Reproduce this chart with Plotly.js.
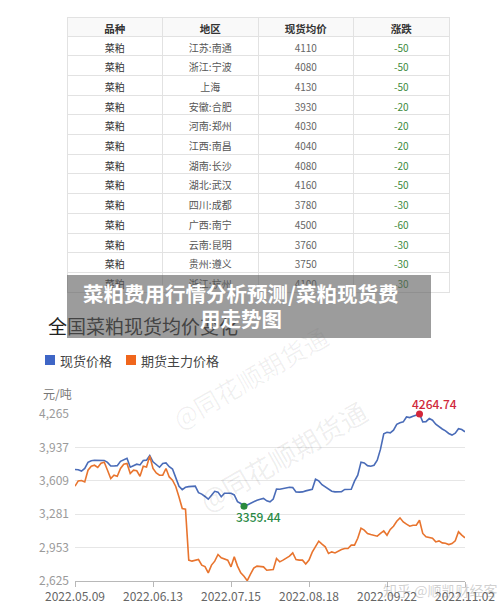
<!DOCTYPE html>
<html><head><meta charset="utf-8">
<script src="https://cdn.plot.ly/plotly-3.0.1.min.js"></script>
<style>html,body{margin:0;padding:0;background:#fff;}#chart{width:500px;height:613px;}</style>
</head><body><div id="chart"></div>
<script>
// ---- table data ----
const tableHeader = ['品种', '地区', '现货均价', '涨跌'];
const varieties = ['菜粕','菜粕','菜粕','菜粕','菜粕','菜粕','菜粕','菜粕','菜粕','菜粕','菜粕','菜粕','菜粕'];
const regions = ['江苏:南通','浙江:宁波','上海','安徽:合肥','河南:郑州','江西:南昌','湖南:长沙','湖北:武汉','四川:成都','广西:南宁','云南:昆明','贵州:遵义','浙江:杭州'];
const avgPrices = [4110, 4080, 4130, 3930, 4030, 4040, 4080, 4160, 3780, 4500, 3760, 3750, 4100];
const priceChanges = [-50, -50, -50, -20, -20, -20, -20, -50, -30, -60, -30, -30, -30];

// ---- chart data (one value per trading day, 2022.05.09 – 2022.11.02) ----
const seriesNames = ['现货价格', '期货主力价格'];
const spotPrice = [
  3720,3718,3705,3730,3790,3806,3810,3812,3808,3809,
  3790,3755,3754,3758,3800,3818,3830,3742,3755,3772,
  3765,3808,3812,3858,3795,3765,3742,3778,3785,3748,
  3725,3640,3556,3522,3545,3552,3555,3557,3492,3478,
  3455,3428,3466,3506,3498,3452,3487,3484,3486,3470,
  3405,3386,3359.44,3372,3390,3405,3418,3428,3436,3412,
  3402,3430,3528,3526,3532,3543,3545,3542,3500,3498,
  3500,3510,3520,3526,3625,3608,3570,3550,3533,3507,
  3500,3499,3502,3524,3522,3526,3605,3665,3792,3785,
  3758,3752,3762,3812,3920,4071,4086,4080,4106,4164,
  4180,4188,4236,4230,4243,4254,4264.74,4188,4190,4220,
  4204,4165,4140,4118,4100,4074,4058,4076,4120,4112,
  4090
];
const futuresPrice = [
  3556,3608,3612,3598,3713,3752,3762,3740,3782,3792,
  3713,3632,3664,3654,3730,3772,3779,3681,3713,3708,
  3654,3752,3745,3852,3730,3686,3664,3664,3730,3647,
  3615,3553,3450,3337,3330,2830,2820,2830,2836,2781,
  2766,2705,2781,2820,2885,2852,2844,2830,2764,2862,
  2771,2705,2672,2628,2692,2751,2771,2764,2764,2731,
  2734,2738,2846,2813,2830,2846,2869,2901,2836,2830,
  2830,2791,2830,2908,2967,3016,2987,2961,2895,2911,
  2901,2921,2934,2944,2944,2977,2977,3045,3144,3124,
  3092,3082,3075,3065,3092,3117,3075,3131,3163,3212,
  3245,3205,3183,3163,3173,3173,3222,3092,3059,3052,
  3045,3009,3019,2999,2996,2983,2993,3019,3108,3075,
  3049
];
const xTickIndex = [0, 24, 48, 72, 96, 120];
const xTickLabels = ['2022.05.09','2022.06.13','2022.07.15','2022.08.18','2022.09.22','2022.11.02'];
const yTickValues = [2625, 2953, 3281, 3609, 3937, 4265];

// ---- helpers ----
const PX = x => x / 500;
const PY = y => 1 - y / 613;
const FONT = '"Noto Sans CJK SC", "Noto Sans", sans-serif';
const BLUE = '#4a6cb8', ORANGE = '#e8742e';

const dayIndex = spotPrice.map((_, i) => i);
const maxVal = Math.max(...spotPrice), minVal = Math.min(...spotPrice);
const maxIdx = spotPrice.indexOf(maxVal), minIdx = spotPrice.indexOf(minVal);

const tableTrace = {
  type: 'table',
  domain: {x: [PX(67), PX(449)], y: [PY(298), PY(17)]},
  columnwidth: [1, 1, 1, 1],
  header: {
    values: tableHeader,
    height: 19,
    align: 'center',
    fill: {color: '#f9f9f9'},
    line: {color: '#e2e2e2', width: 1},
    font: {family: FONT, size: 10.5, color: '#333', weight: 'bold'}
  },
  cells: {
    values: [varieties, regions, avgPrices, priceChanges],
    height: 19.7,
    align: 'center',
    fill: {color: '#ffffff'},
    line: {color: '#e2e2e2', width: 1},
    font: {family: FONT, size: 10, color: ['#333', '#555', '#666', '#3d8a3d']}
  }
};

const spotTrace = {
  type: 'scatter', mode: 'lines', x: dayIndex, y: spotPrice, name: seriesNames[0],
  line: {color: BLUE, width: 1.6}, showlegend: false, hoverinfo: 'skip'
};
const futTrace = {
  type: 'scatter', mode: 'lines', x: dayIndex, y: futuresPrice, name: seriesNames[1],
  line: {color: ORANGE, width: 1.6}, showlegend: false, hoverinfo: 'skip'
};
const extremaTrace = {
  type: 'scatter', mode: 'markers', x: [maxIdx, minIdx], y: [maxVal, minVal],
  marker: {size: 7, color: ['#d3263a', '#2a8a3e']}, showlegend: false, hoverinfo: 'skip',
  cliponaxis: false
};

const annotations = [
  // watermarks
  {xref: 'paper', yref: 'paper', x: PX(250), y: PY(377), text: '@同花顺期货通', showarrow: false,
   textangle: -30, font: {family: FONT, size: 25, color: 'rgba(0,0,0,0.06)'}},
  {xref: 'paper', yref: 'paper', x: PX(377), y: PY(522), text: '@同花顺期货通', showarrow: false,
   textangle: -30, font: {family: FONT, size: 27, color: 'rgba(0,0,0,0.07)'}},
  // unit
  {xref: 'paper', yref: 'paper', x: PX(41), y: PY(393), xanchor: 'left', yanchor: 'middle',
   text: '元/吨', showarrow: false, font: {family: FONT, size: 12, color: '#777'}},
  // legend texts
  {xref: 'paper', yref: 'paper', x: PX(58), y: PY(360), xanchor: 'left', yanchor: 'middle',
   text: seriesNames[0], showarrow: false, font: {family: FONT, size: 13, color: '#444'}},
  {xref: 'paper', yref: 'paper', x: PX(139), y: PY(360), xanchor: 'left', yanchor: 'middle',
   text: seriesNames[1], showarrow: false, font: {family: FONT, size: 13, color: '#444'}},
  // extrema labels
  {xref: 'x', yref: 'y', x: maxIdx, y: maxVal, xanchor: 'left', yanchor: 'middle', xshift: -10, yshift: 11,
   text: maxVal.toFixed(2), showarrow: false, font: {family: FONT, size: 12, color: '#d0283a', weight: 500}},
  {xref: 'x', yref: 'y', x: minIdx, y: minVal, xanchor: 'left', yanchor: 'middle', xshift: -10, yshift: -10,
   text: minVal.toFixed(2), showarrow: false, font: {family: FONT, size: 12, color: '#2a8a46', weight: 500}},
  // chart title
  {xref: 'paper', yref: 'paper', x: PX(46), y: PY(325), xanchor: 'left', yanchor: 'middle',
   text: '全国菜粕现货均价变化', showarrow: false, font: {family: FONT, size: 19, color: '#222'}},
  // banner box
  {xref: 'paper', yref: 'paper', x: PX(67), y: PY(275), xanchor: 'left', yanchor: 'top',
   text: ' ', showarrow: false, width: 364, height: 63, borderpad: 0, borderwidth: 0,
   bgcolor: 'rgba(90,90,90,0.6)'},
  // banner text
  {xref: 'paper', yref: 'paper', x: PX(240), y: PY(293), xanchor: 'center', yanchor: 'middle',
   text: '菜粕费用行情分析预测/菜粕现货费', showarrow: false,
   font: {family: FONT, size: 20.5, color: '#ffffff', weight: 'bold'}},
  {xref: 'paper', yref: 'paper', x: PX(241), y: PY(318), xanchor: 'center', yanchor: 'middle',
   text: '用走势图', showarrow: false,
   font: {family: FONT, size: 20.5, color: '#ffffff', weight: 'bold'}},
  // bottom-right watermark
  {xref: 'paper', yref: 'paper', x: PX(440), y: PY(590), xanchor: 'center', yanchor: 'middle',
   text: '知乎 @顺凯财经客', showarrow: false, font: {family: FONT, size: 14, color: 'rgba(120,120,120,0.35)'}}
];

const shapes = [
  {type: 'rect', xref: 'paper', yref: 'paper', x0: PX(45), x1: PX(55), y0: PY(365), y1: PY(355),
   fillcolor: '#3f66c6', line: {width: 0}, layer: 'above'},
  {type: 'rect', xref: 'paper', yref: 'paper', x0: PX(126), x1: PX(136), y0: PY(365), y1: PY(355),
   fillcolor: '#f0661c', line: {width: 0}, layer: 'above'}
];

const layout = {
  width: 500, height: 613,
  margin: {l: 0, r: 0, t: 0, b: 0},
  paper_bgcolor: '#ffffff', plot_bgcolor: '#ffffff',
  showlegend: false,
  font: {family: FONT},
  xaxis: {
    domain: [PX(75), PX(465)], range: [0, 120],
    tickmode: 'array', tickvals: xTickIndex, ticktext: xTickLabels,
    showgrid: false, zeroline: false, showline: true, linecolor: '#b8b8b8', linewidth: 1,
    ticks: 'outside', ticklen: 5, tickcolor: '#b8b8b8',
    tickfont: {family: FONT, size: 12, color: '#666'}, fixedrange: true
  },
  yaxis: {
    domain: [PY(581), PY(414)], range: [2625, 4265],
    tickmode: 'array', tickvals: yTickValues, tickformat: ',d',
    showgrid: true, gridcolor: '#e6e6e6', zeroline: false, showline: false, ticks: '',
    ticklabelstandoff: 5,
    tickfont: {family: FONT, size: 12, color: '#9a9a9a'}, fixedrange: true
  },
  annotations: annotations,
  shapes: shapes
};

Plotly.newPlot('chart', [tableTrace, spotTrace, futTrace, extremaTrace], layout,
  {displayModeBar: false, staticPlot: true});
</script>
</body></html>
